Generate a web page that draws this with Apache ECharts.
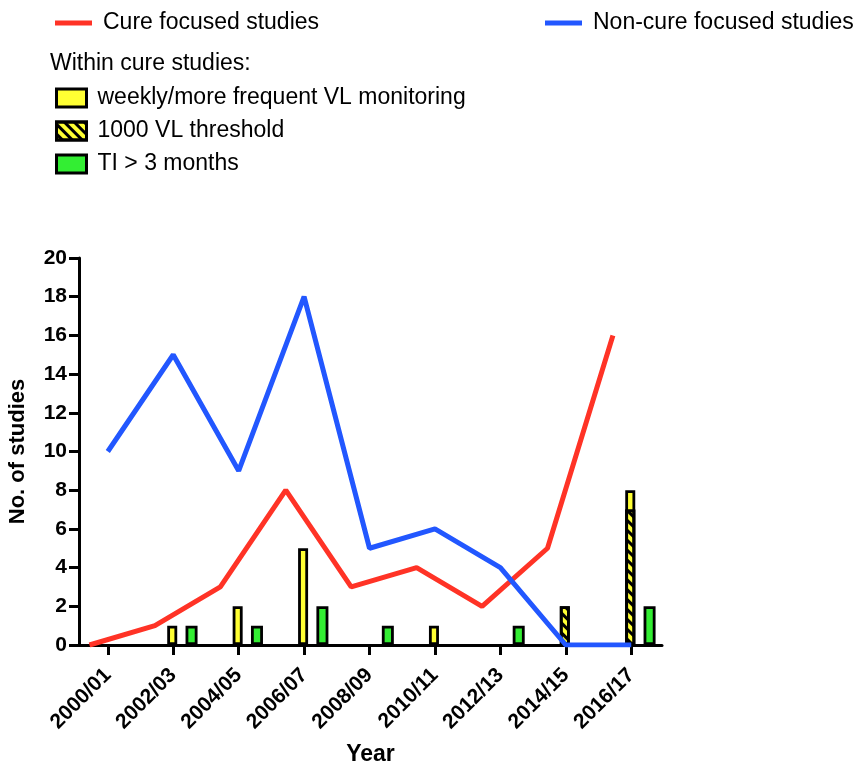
<!DOCTYPE html>
<html>
<head>
<meta charset="utf-8">
<script src="https://cdn.jsdelivr.net/npm/echarts@6/dist/echarts.min.js"></script>
<style>
  html, body { margin: 0; padding: 0; background: #fff; }
  #chart { width: 861px; height: 766px; }
</style>
</head>
<body>
<div id="chart"></div>
<script>
// 数据
var years = ['2000/01', '2002/03', '2004/05', '2006/07', '2008/09', '2010/11', '2012/13', '2014/15', '2016/17'];
var cureStudies = [0, 1, 3, 8, 3, 4, 2, 5, 16];
var nonCureStudies = [10, 15, 9, 18, 5, 6, 4, 0, 0];
var weeklyVL = [0, 1, 2, 5, 0, 1, 0, 0, 1];
var threshold1000 = [0, 0, 0, 0, 0, 0, 0, 2, 7];
var tiOver3 = [0, 1, 1, 2, 1, 0, 1, 0, 2];
var yTicks = [0, 2, 4, 6, 8, 10, 12, 14, 16, 18, 20];

var RED = '#ff3326';
var BLUE = '#2257ff';
var YELLOW = '#ffff33';
var GREEN = '#33ee33';
var FONT = '"Liberation Sans", Arial, Helvetica, sans-serif';

var redShift = -0.28, greenShift = 0.28;

function pairs(arr, shift, dropZero) {
	var out = [];
	for (var i = 0; i < arr.length; i++) {
		var v = arr[i];
		out.push([i + shift, (dropZero && v === 0) ? '-' : v]);
	}
	return out;
}

// 黄色柱子画在阈值柱子下面(总高度), 阈值柱子盖在上面
var weeklyTop = [];
for (var i = 0; i < weeklyVL.length; i++) {
	weeklyTop.push(weeklyVL[i] === 0 ? 0 : weeklyVL[i] + threshold1000[i]);
}

var xIdx = [];
for (var i = 0; i < years.length; i++) xIdx.push(i);

var legendText = { fontSize: 23, color: '#000', fontFamily: FONT, padding: [0, 0, 0, 6], lineHeight: 24 };

var myChart = echarts.init(document.getElementById('chart'));
var option = {
	backgroundColor: '#fff',
	animation: false,
	textStyle: { fontFamily: FONT },
	grid: { left: 79, right: 199, top: 258, bottom: 121, containLabel: false, outerBoundsMode: 'none' },
	graphic: [{
		type: 'text', left: 50, top: 52,
		style: { text: 'Within cure studies:', font: '23px ' + FONT, fill: '#000' }
	}],
	legend: [{
		data: [{ name: 'Cure focused studies', icon: 'rect' }],
		left: 50, top: 6, itemWidth: 37, itemHeight: 5,
		textStyle: legendText
	}, {
		data: [{ name: 'Non-cure focused studies', icon: 'rect' }],
		left: 540, top: 6, itemWidth: 37, itemHeight: 5,
		textStyle: legendText
	}, {
		data: [
			{ name: 'weekly/more frequent VL monitoring', icon: 'rect' },
			{ name: '1000 VL threshold', icon: 'rect' },
			{ name: 'TI > 3 months', icon: 'rect' }
		],
		orient: 'vertical', left: 50, top: 81, itemGap: 9, itemWidth: 30, itemHeight: 18,
		itemStyle: { borderColor: '#000', borderWidth: 3 },
		textStyle: legendText
	}],
	xAxis: {
		type: 'value', min: -0.44, max: 8.47,
		name: 'Year', nameLocation: 'middle', nameGap: 98,
		nameTextStyle: { fontSize: 23, fontWeight: 'bold', color: '#000', fontFamily: FONT },
		splitLine: { show: false },
		axisLine: { show: true, onZero: false, lineStyle: { color: '#000', width: 3 } },
		axisTick: { show: true, customValues: xIdx, length: 10, lineStyle: { color: '#000', width: 3 } },
		axisLabel: {
			customValues: xIdx, rotate: 45, margin: 27,
			fontSize: 21, fontWeight: 'bold', color: '#000', fontFamily: FONT,
			formatter: function (v) { return years[Math.round(v)]; }
		}
	},
	yAxis: {
		type: 'value', min: 0, max: 20, interval: 2,
		name: 'No. of studies', nameLocation: 'middle', nameGap: 50, nameRotate: 90,
		nameTextStyle: { fontSize: 22, fontWeight: 'bold', color: '#000', fontFamily: FONT },
		splitLine: { show: false },
		axisLine: { show: true, onZero: false, lineStyle: { color: '#000', width: 3 } },
		axisTick: { show: true, length: 10, lineStyle: { color: '#000', width: 3 } },
		axisLabel: {
			margin: 12, fontSize: 21, fontWeight: 'bold', color: '#000', fontFamily: FONT,
			formatter: function (v) { return yTicks.indexOf(v) >= 0 ? String(v) : ''; }
		}
	},
	series: [{
		name: 'weekly/more frequent VL monitoring', type: 'bar',
		barWidth: 10, barGap: '-100%',
		data: pairs(weeklyTop, 0, true),
		itemStyle: { color: YELLOW, borderColor: '#000', borderWidth: 2.8 },
		z: 2
	}, {
		name: '1000 VL threshold', type: 'bar',
		barWidth: 10, barGap: '-100%',
		data: pairs(threshold1000, 0, true),
		itemStyle: {
			color: YELLOW, borderColor: '#000', borderWidth: 2.8,
			decal: {
				symbol: 'rect', symbolSize: 1, color: '#000',
				dashArrayX: [1, 0], dashArrayY: [3, 4], rotation: Math.PI / 4
			}
		},
		z: 3
	}, {
		name: 'TI > 3 months', type: 'bar',
		barWidth: 12, barGap: '-100%',
		data: pairs(tiOver3, greenShift, true),
		itemStyle: { color: GREEN, borderColor: '#000', borderWidth: 2.8 },
		z: 2
	}, {
		name: 'Cure focused studies', type: 'line',
		data: pairs(cureStudies, redShift, false),
		showSymbol: false, symbol: 'none',
		lineStyle: { color: RED, width: 5 }, itemStyle: { color: RED },
		z: 5
	}, {
		name: 'Non-cure focused studies', type: 'line',
		data: pairs(nonCureStudies, 0, false),
		showSymbol: false, symbol: 'none',
		lineStyle: { color: BLUE, width: 5 }, itemStyle: { color: BLUE },
		z: 5
	}]
};
myChart.setOption(option);
</script>
</body>
</html>
